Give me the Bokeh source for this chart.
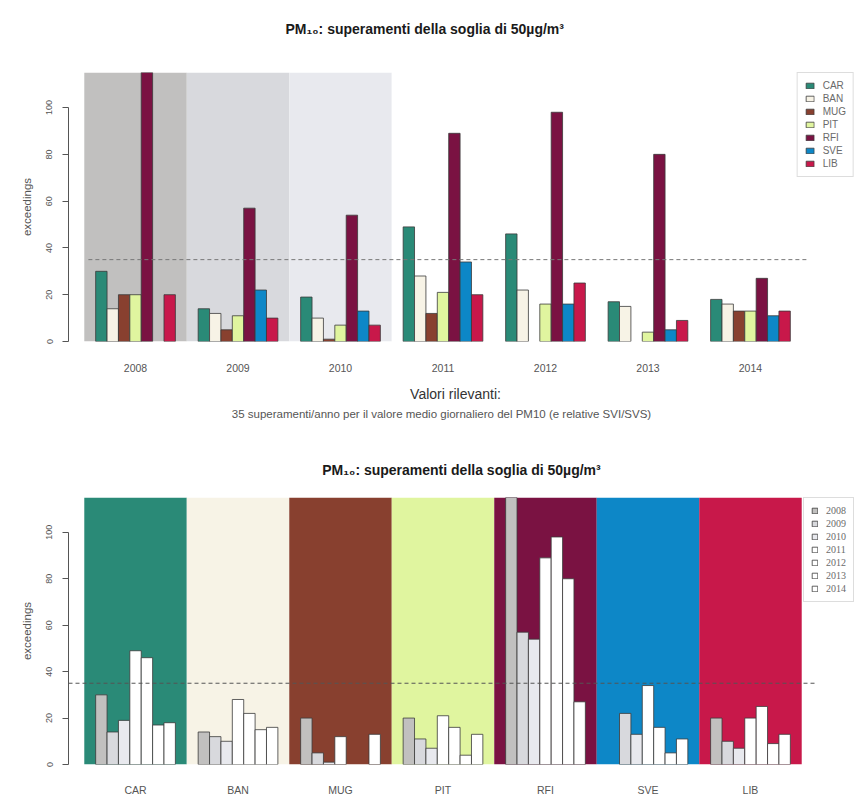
from bokeh.plotting import figure
from bokeh.models import Range1d, FixedTicker, ColumnDataSource, Legend, LegendItem
from bokeh.layouts import column
from bokeh.embed import file_html
from bokeh.resources import INLINE
from bokeh.core.properties import value

# --- data: yearly number of PM10 exceedances per station ---
YEARS = ["2008", "2009", "2010", "2011", "2012", "2013", "2014"]
STATIONS = ["CAR", "BAN", "MUG", "PIT", "RFI", "SVE", "LIB"]

CAR = [30, 14, 19, 49, 46, 17, 18]
BAN = [14, 12, 10, 28, 22, 15, 16]
MUG = [20, 5, 1, 12, None, None, 13]
PIT = [20, 11, 7, 21, 16, 4, 13]
RFI = [117, 57, 54, 89, 98, 80, 27]
SVE = [None, 22, 13, 34, 16, 5, 11]
LIB = [20, 10, 7, 20, 25, 9, 13]

SERIES = [CAR, BAN, MUG, PIT, RFI, SVE, LIB]
THRESHOLD = 35

TITLE = "PM\u2081\u2080: superamenti della soglia di 50\u00b5g/m\u00b3"
CAPTION_1 = "Valori rilevanti:"
CAPTION_2 = "35 superamenti/anno per il valore medio giornaliero del PM10 (e relative SVI/SVS)"

# --- styling ---
STATION_COLORS = ["#2a8a77", "#f7f3e6", "#88402f", "#e0f59f", "#7a1242", "#0d87c7", "#c8184a"]
YEAR_COLORS = ["#c1c0bf", "#d8d9dd", "#e8e9ee", "#ffffff", "#ffffff", "#ffffff", "#ffffff"]
BAR_LINE = "#3a3a3a"
TEXT_GREY = "#555555"
TITLE_COLOR = "#1a1a1a"
SANS = "Liberation Sans"
SERIF = "Liberation Serif"

W = 854
LEFT = 68          # width of the left border (y axis area) in every panel
Y_MAX = 115
BAR_W = 1 / 9
X_LO, X_HI = -0.654, 7.015
LINE_X0, LINE_X1 = -0.46, 6.55


def text_strip(height):
    """A bare figure whose ranges are in page pixels, used for free-standing text.
    Its frame is aligned with the chart frames below, so x starts at LEFT."""
    f = figure(width=W, height=height, x_range=Range1d(LEFT, W), y_range=Range1d(height, 0),
               x_axis_type=None, y_axis_type=None, output_backend="svg",
               toolbar_location=None, min_border=0, min_border_left=LEFT)
    f.outline_line_color = None
    f.xgrid.visible = False
    f.ygrid.visible = False
    return f


def base_figure(height, top_border, bottom_border, tick_labels, label_standoff,
                title_standoff=None):
    p = figure(width=W, height=height,
               x_range=Range1d(X_LO, X_HI), y_range=Range1d(0, Y_MAX),
               output_backend="svg", toolbar_location=None,
               min_border_left=LEFT, min_border_right=0,
               min_border_top=top_border, min_border_bottom=bottom_border)
    p.outline_line_color = None
    p.xgrid.visible = False
    p.ygrid.visible = False

    if title_standoff is not None:
        p.title.text = TITLE
        p.title.align = "center"
        p.title.text_font = SANS
        p.title.text_font_size = "14px"
        p.title.text_font_style = "bold"
        p.title.text_color = TITLE_COLOR
        p.title.standoff = title_standoff

    xa = p.xaxis[0]
    xa.ticker = FixedTicker(ticks=list(range(len(tick_labels))))
    xa.major_label_overrides = {i: t for i, t in enumerate(tick_labels)}
    xa.axis_line_color = None
    xa.major_tick_line_color = None
    xa.minor_tick_line_color = None
    xa.major_label_standoff = label_standoff
    xa.major_label_text_font = SANS
    xa.major_label_text_font_size = "10.5px"
    xa.major_label_text_color = "#555555"

    ya = p.yaxis[0]
    ya.ticker = FixedTicker(ticks=[0, 20, 40, 60, 80, 100])
    ya.bounds = (0, 100)
    ya.major_label_orientation = "vertical"
    ya.axis_line_color = TEXT_GREY
    ya.major_tick_line_color = TEXT_GREY
    ya.minor_tick_line_color = None
    ya.major_tick_out = 6
    ya.major_tick_in = 0
    ya.major_label_standoff = 10
    ya.major_label_text_font = SANS
    ya.major_label_text_font_size = "9px"
    ya.major_label_text_color = TEXT_GREY
    ya.axis_label = "exceedings"
    ya.axis_label_standoff = 11
    ya.axis_label_text_font = SANS
    ya.axis_label_text_font_size = "11.5px"
    ya.axis_label_text_font_style = "normal"
    ya.axis_label_text_color = TEXT_GREY
    return p


def style_legend(legend, font, font_size, glyph_w, glyph_h, row_gap, padding):
    legend.location = "top_right"
    legend.margin = 0
    legend.padding = padding
    legend.spacing = row_gap
    legend.glyph_width = glyph_w
    legend.glyph_height = glyph_h
    legend.label_height = 10
    legend.label_standoff = 8
    legend.label_text_font = font
    legend.label_text_font_size = font_size
    legend.label_text_color = "#6a6a6a"
    legend.border_line_color = "#bbbbbb"
    legend.border_line_width = 1
    legend.background_fill_color = "white"
    legend.background_fill_alpha = 1.0


def bars(values, offset):
    xs, tops = [], []
    for i, v in enumerate(values):
        if v is not None:
            xs.append(i + offset)
            tops.append(v)
    return ColumnDataSource(dict(x=xs, top=tops))


# --- heading of the first chart ---
head = text_strip(40)
head.text(x=[285], y=[28], text=[TITLE], text_font=value(SANS), text_font_size="14px",
          text_font_style="bold", text_align="left", text_baseline="middle",
          text_color=TITLE_COLOR)

# --- top chart: grouped by year, one bar per station ---
top = base_figure(338, 32, 37, YEARS, 16)
n = len(YEARS)
top.quad(source=ColumnDataSource(dict(left=[i - 0.5 for i in range(n)],
                                      right=[i + 0.5 for i in range(n)],
                                      color=YEAR_COLORS)),
         left="left", right="right", bottom=0, top=Y_MAX,
         fill_color="color", line_color=None)
items = []
for j, (name, vals) in enumerate(zip(STATIONS, SERIES)):
    r = top.vbar(x="x", top="top", bottom=0, width=BAR_W, source=bars(vals, (j - 3) * BAR_W),
                 fill_color=STATION_COLORS[j], line_color=BAR_LINE, line_width=0.8)
    items.append(LegendItem(label=name, renderers=[r]))
top.segment(x0=[LINE_X0], x1=[LINE_X1], y0=[THRESHOLD], y1=[THRESHOLD],
            line_color="#777777", line_width=1, line_dash="4 3")
leg_top = Legend(items=items)
style_legend(leg_top, SANS, "10px", 10, 7, 2, 7)
top.add_layout(leg_top)

# --- caption between the two charts ---
cap = text_strip(57)
cap.text(x=[455], y=[15], text=[CAPTION_1], text_font=value(SANS), text_font_size="14px",
         text_align="center", text_baseline="middle", text_color="#333333")
cap.text(x=[441], y=[35], text=[CAPTION_2], text_font=value(SANS), text_font_size="11.5px",
         text_align="center", text_baseline="middle", text_color="#555555")

# --- bottom chart: grouped by station, one bar per year ---
bot = base_figure(363, 62, 32, STATIONS, 13, title_standoff=39)
m = len(STATIONS)
bot.quad(source=ColumnDataSource(dict(left=[i - 0.5 for i in range(m)],
                                      right=[i + 0.5 for i in range(m)],
                                      color=STATION_COLORS)),
         left="left", right="right", bottom=0, top=Y_MAX,
         fill_color="color", line_color=None)
items = []
for k, year in enumerate(YEARS):
    per_station = [s[k] for s in SERIES]
    r = bot.vbar(x="x", top="top", bottom=0, width=BAR_W, source=bars(per_station, (k - 3) * BAR_W),
                 fill_color=YEAR_COLORS[k], line_color=BAR_LINE, line_width=0.8)
    items.append(LegendItem(label=year, renderers=[r]))
bot.segment(x0=[X_LO], x1=[6.63], y0=[THRESHOLD], y1=[THRESHOLD],
            line_color="#555555", line_width=1, line_dash="4 3")
leg_bot = Legend(items=items)
style_legend(leg_bot, SERIF, "10px", 7, 7, 2, 7)
bot.add_layout(leg_bot)

page = column(head, top, cap, bot, spacing=0)
open("out.html", "w").write(file_html(page, INLINE))
